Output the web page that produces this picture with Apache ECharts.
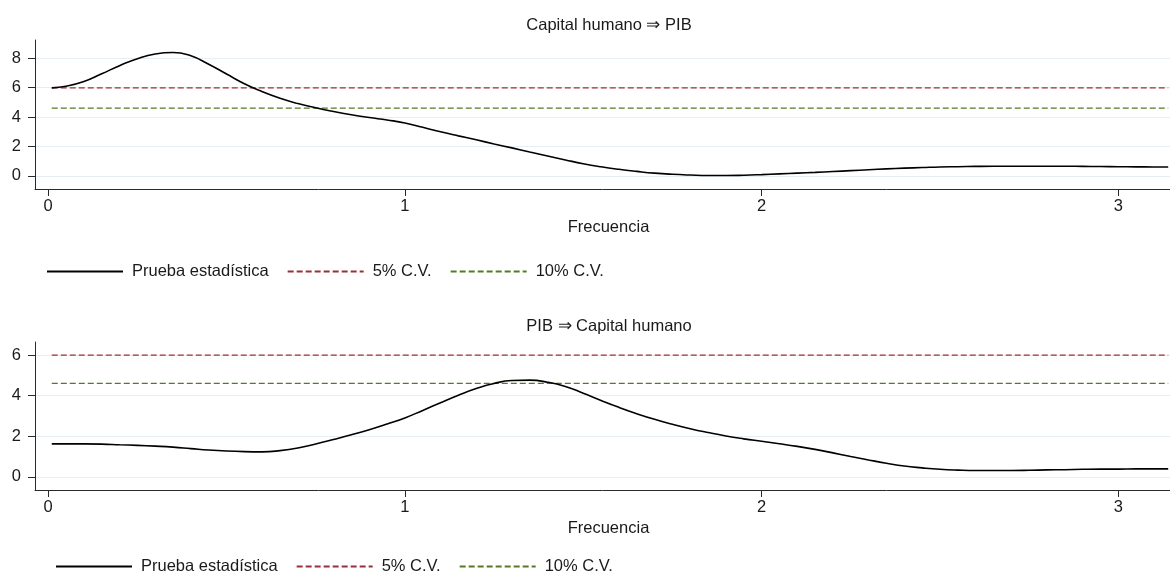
<!DOCTYPE html>
<html>
<head>
<meta charset="utf-8">
<script src="https://cdn.jsdelivr.net/npm/echarts@6/dist/echarts.min.js"></script>
<style>
  html, body { margin: 0; padding: 0; background: #fff; }
  #chart { width: 1170px; height: 578px; }
</style>
</head>
<body>
<div id="chart"></div>
<script>
// ---- Data ----
const titles = ['Capital humano \u21D2 PIB', 'PIB \u21D2 Capital humano'];
const xAxisName = 'Frecuencia';
const seriesNames = ['Prueba estadística', '5% C.V.', '10% C.V.'];

const freq = [0.01, 0.05, 0.10, 0.15, 0.20, 0.25, 0.30, 0.35, 0.40, 0.45, 0.50,
  0.55, 0.60, 0.65, 0.70, 0.75, 0.80, 0.85, 0.90, 0.95, 1.00,
  1.05, 1.10, 1.15, 1.20, 1.25, 1.30, 1.35, 1.40, 1.45, 1.50,
  1.55, 1.60, 1.65, 1.70, 1.75, 1.80, 1.85, 1.90, 1.95, 2.00,
  2.05, 2.10, 2.15, 2.20, 2.25, 2.30, 2.35, 2.40, 2.45, 2.50,
  2.55, 2.60, 2.65, 2.70, 2.75, 2.80, 2.85, 2.90, 2.95, 3.00,
  3.05, 3.10, 3.14];

const statHKtoGDP = [5.99, 6.10, 6.42, 6.95, 7.50, 7.98, 8.30, 8.40, 8.17, 7.60, 6.93,
  6.27, 5.73, 5.28, 4.92, 4.63, 4.38, 4.16, 3.97, 3.80, 3.60,
  3.30, 3.00, 2.72, 2.45, 2.17, 1.90, 1.62, 1.35, 1.08, 0.82,
  0.61, 0.44, 0.30, 0.18, 0.10, 0.05, 0.02, 0.02, 0.04, 0.08,
  0.13, 0.18, 0.23, 0.29, 0.35, 0.41, 0.47, 0.52, 0.56, 0.60,
  0.62, 0.64, 0.65, 0.65, 0.65, 0.65, 0.65, 0.64, 0.63, 0.62,
  0.61, 0.60, 0.60];

const statGDPtoHK = [1.62, 1.62, 1.62, 1.61, 1.58, 1.55, 1.51, 1.46, 1.39, 1.32, 1.27,
  1.24, 1.23, 1.29, 1.42, 1.62, 1.84, 2.07, 2.32, 2.60, 2.90,
  3.27, 3.65, 4.02, 4.35, 4.60, 4.74, 4.76, 4.66, 4.45, 4.12,
  3.76, 3.42, 3.11, 2.83, 2.59, 2.37, 2.18, 2.01, 1.87, 1.75,
  1.63, 1.50, 1.35, 1.18, 1.00, 0.83, 0.67, 0.53, 0.44, 0.37,
  0.33, 0.31, 0.31, 0.31, 0.32, 0.34, 0.35, 0.37, 0.38, 0.38,
  0.39, 0.39, 0.39];

const cv5 = 5.991;
const cv10 = 4.605;

const xTicks = [0, 1, 2, 3];
const yTicksTop = [0, 2, 4, 6, 8];
const yTicksBottom = [0, 2, 4, 6];

// ---- Styling ----
const FONT = '"Liberation Sans", Arial, Helvetica, sans-serif';
const FS = 16.5;
const TXT = '#1a1a1a';
const AXIS = '#2a2a2a';
const GRIDC = '#e6eef3';
const RED = '#98303c';
const GREEN = '#557a26';

function pairs(xs, ys) { return xs.map((x, i) => [x, ys[i]]); }
function flat(v) { return [[freq[0], v], [freq[freq.length - 1], v]]; }

function xAxisDef(gridIndex) {
  return {
    type: 'value', gridIndex,
    min: -0.037, max: 3.145,
    name: xAxisName, nameLocation: 'middle', nameGap: 30,
    nameTextStyle: { fontFamily: FONT, fontSize: FS, color: TXT, padding: [0, 0, 0, 12] },
    axisLine: { show: true, onZero: false, lineStyle: { color: AXIS, width: 1 } },
    axisTick: { show: true, length: 7, lineStyle: { color: AXIS }, customValues: xTicks },
    axisLabel: { fontFamily: FONT, fontSize: FS, color: TXT, margin: 9, customValues: xTicks },
    splitLine: { show: false }
  };
}
function yAxisDef(gridIndex, min, max, ticks) {
  return {
    type: 'value', gridIndex, min, max,
    axisLine: { show: true, onZero: false, lineStyle: { color: AXIS, width: 1 } },
    axisTick: { show: true, length: 7, lineStyle: { color: AXIS }, customValues: ticks },
    axisLabel: { fontFamily: FONT, fontSize: FS, color: TXT, margin: 14, customValues: ticks },
    splitLine: { show: true, lineStyle: { color: GRIDC, width: 1.2 } }
  };
}
function seriesFor(idx, stat) {
  return [
    { name: seriesNames[0], type: 'line', xAxisIndex: idx, yAxisIndex: idx,
      data: pairs(freq, stat), smooth: 0.5, symbol: 'none',
      lineStyle: { color: '#000', width: 1.6 }, itemStyle: { color: '#000' }, z: 5 },
    { name: seriesNames[1], type: 'line', xAxisIndex: idx, yAxisIndex: idx,
      data: flat(cv5), symbol: 'none',
      lineStyle: { color: RED, width: 1.2, type: [6, 3] }, itemStyle: { color: RED }, z: 3 },
    { name: seriesNames[2], type: 'line', xAxisIndex: idx, yAxisIndex: idx,
      data: flat(cv10), symbol: 'none',
      lineStyle: { color: GREEN, width: 1.2, type: [6, 3] }, itemStyle: { color: GREEN }, z: 3 }
  ];
}
function legendDef(left, top) {
  return {
    left, top, padding: 0, itemWidth: 76, itemHeight: 12, itemGap: 18,
    selectedMode: false,
    itemStyle: { color: 'transparent', borderWidth: 0, opacity: 0 },
    textStyle: { fontFamily: FONT, fontSize: FS, color: TXT, padding: [0, 0, 0, 4] },
    data: seriesNames
  };
}

const chart = echarts.init(document.getElementById('chart'), null, { renderer: 'canvas' });
chart.setOption({
  animation: false,
  backgroundColor: '#fff',
  title: [
    { text: titles[0], left: 609, top: 17, textAlign: 'center', padding: 0,
      textStyle: { fontFamily: FONT, fontSize: FS, fontWeight: 'normal', color: TXT } },
    { text: titles[1], left: 609, top: 318, textAlign: 'center', padding: 0,
      textStyle: { fontFamily: FONT, fontSize: FS, fontWeight: 'normal', color: TXT } }
  ],
  legend: [legendDef(46, 263), legendDef(55, 558)],
  grid: [
    { left: 35, top: 40, width: 1135, height: 149 },
    { left: 35, top: 342, width: 1135, height: 148 }
  ],
  xAxis: [xAxisDef(0), xAxisDef(1)],
  yAxis: [yAxisDef(0, -0.9, 9.25, yTicksTop), yAxisDef(1, -0.65, 6.64, yTicksBottom)],
  series: [...seriesFor(0, statHKtoGDP), ...seriesFor(1, statGDPtoHK)]
});
</script>
</body>
</html>
